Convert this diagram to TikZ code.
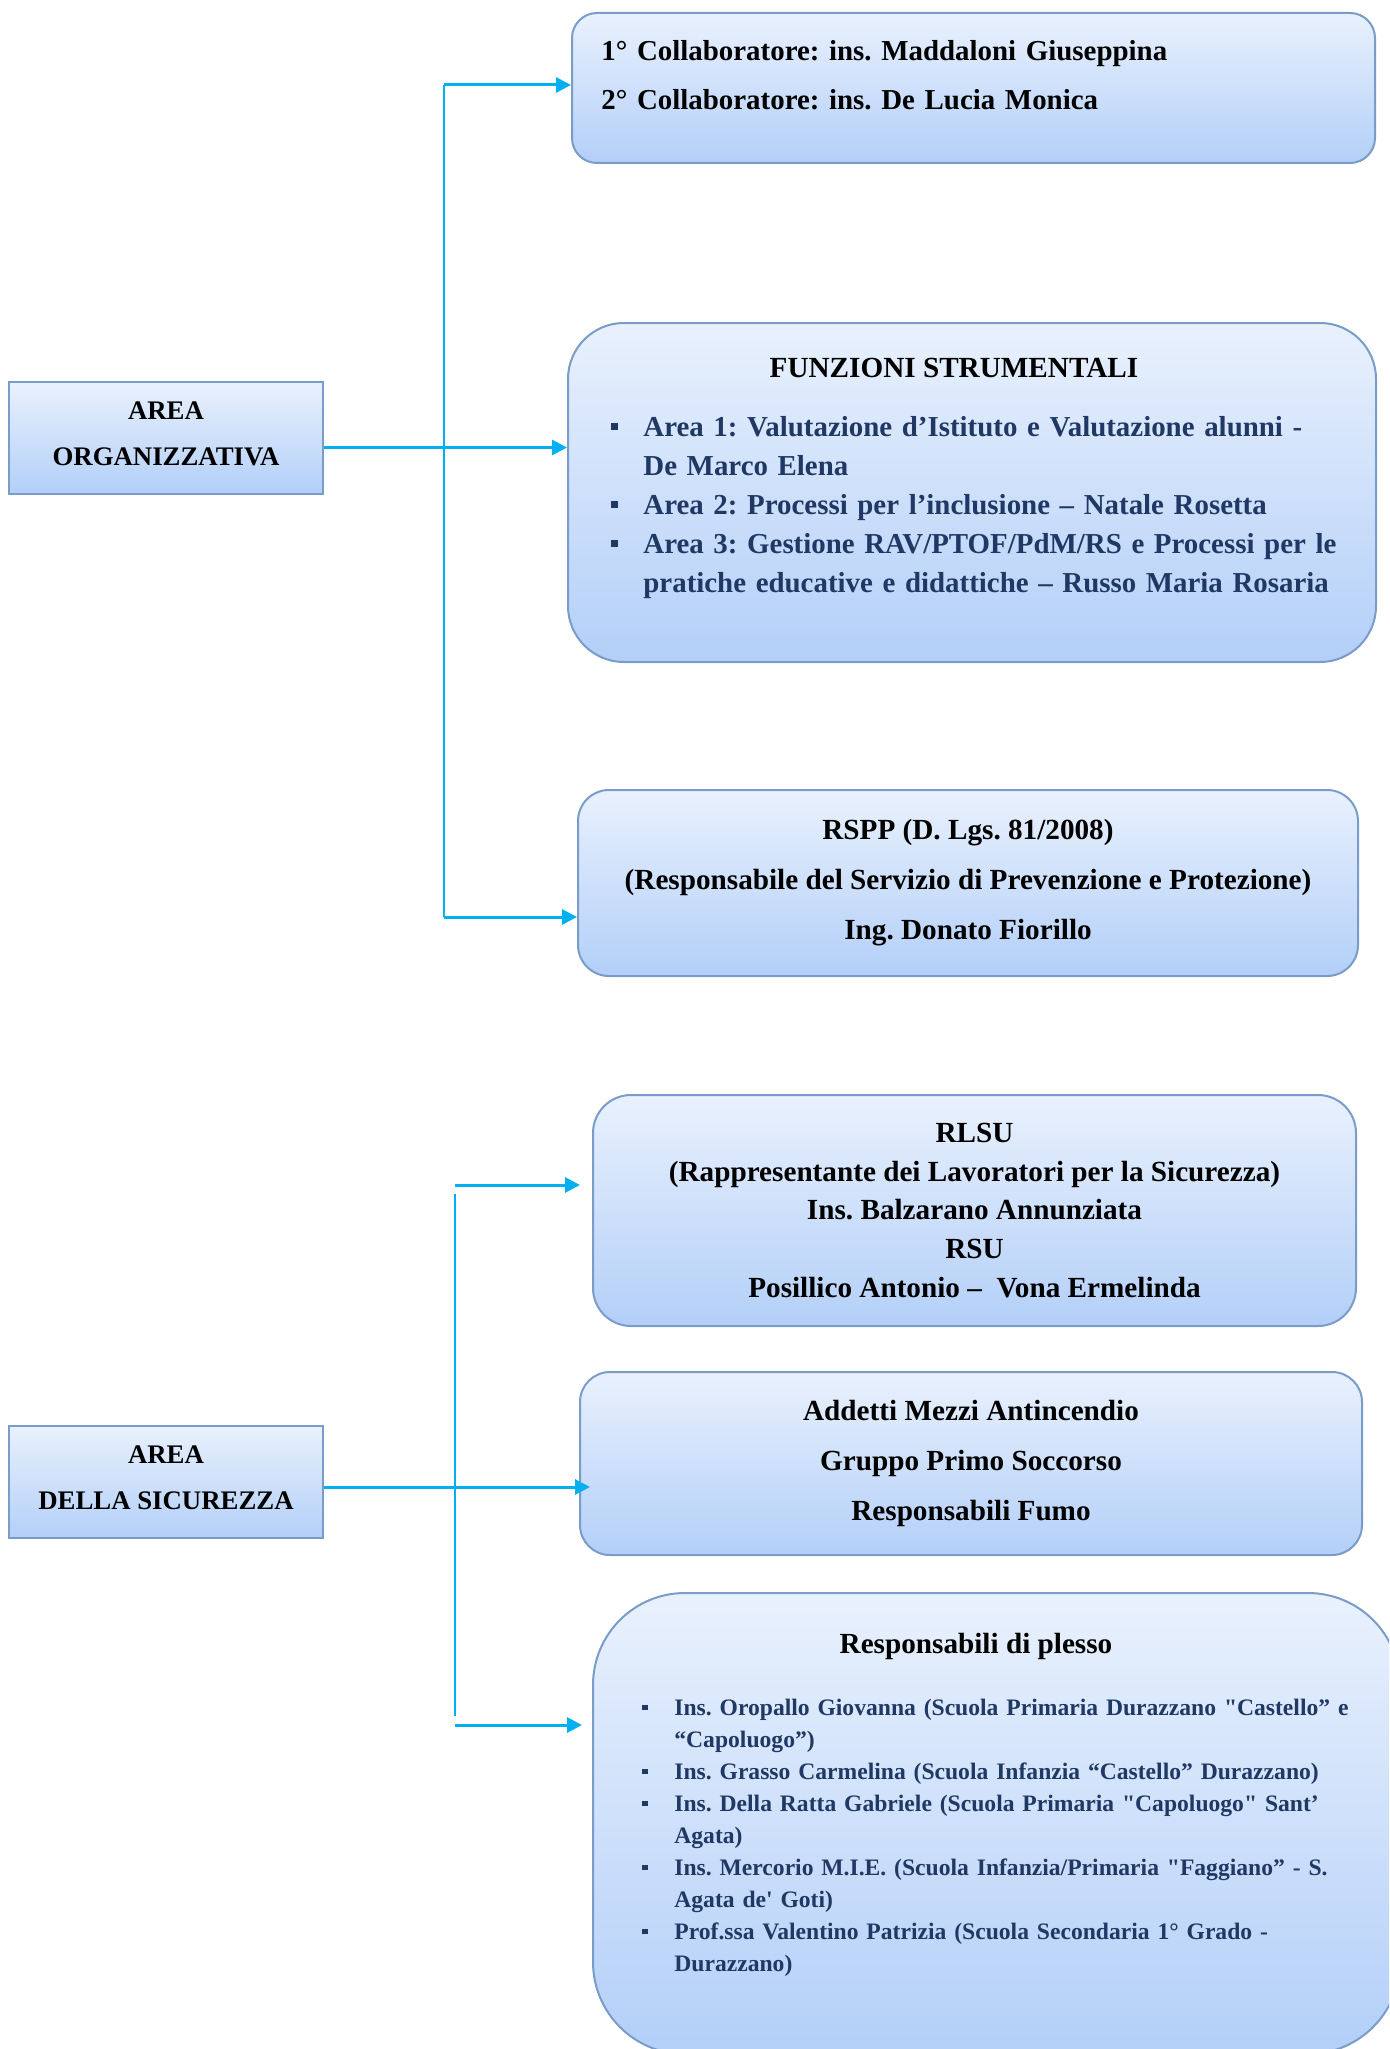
\documentclass[tikz,border=0pt]{standalone}
\usepackage{fontspec}
\setmainfont{Liberation Serif}
\usetikzlibrary{positioning, arrows.meta}

\definecolor{linkcyan}{HTML}{00B0F0}
\definecolor{boxline}{HTML}{7A9CC8}
\definecolor{boxtop}{HTML}{E9F1FD}
\definecolor{boxbot}{HTML}{B3CFF8}
\definecolor{navytext}{HTML}{1F3864}

% square bullets with hanging indent
\newlength{\bindent}
\setlength{\bindent}{16pt}
\newcommand{\sqbullet}{\rule[0.22em]{0.24em}{0.24em}}
\newcommand{\bitem}[1]{\noindent\hangindent=\bindent\hangafter=1\makebox[\bindent][l]{\sqbullet}#1\par}
\newcommand{\lowdepth}{\rule[-4pt]{0pt}{4pt}}

\begin{document}
\frenchspacing
\begin{tikzpicture}[x=0.5pt, y=-0.5pt,
    areabox/.style={draw=boxline, line width=1pt, top color=boxtop, bottom color=boxbot,
      minimum width=157pt, minimum height=56pt, align=center,
      font=\fontsize{13.4}{23}\selectfont\bfseries},
    infobox/.style={draw=boxline, line width=1pt, top color=boxtop, bottom color=boxbot,
      align=center, font=\fontsize{14.6}{25}\selectfont\bfseries},
    bodytext/.style={anchor=base west, inner sep=0pt, text width=390pt, align=left},
    titletext/.style={anchor=base, inner sep=0pt, font=\fontsize{14.6}{25}\selectfont\bfseries},
    trunk/.style={draw=linkcyan, line width=1pt},
    link/.style={draw=linkcyan, line width=1.5pt, -{Triangle[length=7.5pt, width=7.5pt]}}
  ]
  \useasboundingbox (0,0) rectangle (1389,2049);
  \clip (0,0) rectangle (1389,2049);

  % -- 1. AREA ORGANIZZATIVA --
  \node[areabox] (org) at (166,437.5) {AREA\\ORGANIZZATIVA\lowdepth};

  \node[infobox, rounded corners=12.5pt, minimum width=401.5pt, minimum height=75pt] (collab) at (973.5,88) {};
  \node[bodytext, font=\fontsize{14.45}{24.5}\selectfont\bfseries] (collabtxt) at (601,60.5)
    {1° Collaboratore: ins. Maddaloni Giuseppina\\
     2° Collaboratore: ins. De Lucia Monica};

  \node[infobox, rounded corners=28pt, minimum width=404pt, minimum height=169.5pt] (fs) at (972,492.5) {};
  \node[titletext] (fstitle) at (954,377.5) {FUNZIONI STRUMENTALI};
  \node[bodytext, text=navytext, font=\fontsize{14.45}{19.5}\selectfont\bfseries] (fslist) at (611,436.5) {%
    \bitem{Area 1: Valutazione d’Istituto e Valutazione alunni -\newline De Marco Elena}
    \bitem{Area 2: Processi per l’inclusione – Natale Rosetta}
    \bitem{Area 3: Gestione RAV/PTOF/PdM/RS e Processi per le\newline pratiche educative e didattiche – Russo Maria Rosaria}};

  \node[infobox, rounded corners=15.5pt, minimum width=390pt, minimum height=93pt] (rspp) at (968,883)
    {RSPP (D. Lgs. 81/2008)\\
     (Responsabile del Servizio di Prevenzione e Protezione)\\
     Ing. Donato Fiorillo};

  % connectors
  \coordinate (otop) at (444,85);
  \coordinate (obot) at (444,917);
  \draw[trunk] (otop) -- (obot);
  \draw[link] (otop) -- (collab.west |- otop);
  \draw[link] ([yshift=-5pt]org.east) -- ([yshift=-5pt]org.east -| fs.west);
  \draw[link] (obot) -- (rspp.west |- obot);

  % -- 2. AREA DELLA SICUREZZA --
  \node[areabox] (sic) at (166,1482) {AREA\\DELLA SICUREZZA\lowdepth};

  \node[infobox, rounded corners=19pt, minimum width=381.5pt, minimum height=115.5pt,
    font=\fontsize{14.6}{19.4}\selectfont\bfseries] (rlsu) at (974.5,1210.5)
    {RLSU\\
     (Rappresentante dei Lavoratori per la Sicurezza)\\
     Ins. Balzarano Annunziata\\
     RSU\\
     Posillico Antonio –\ \ Vona Ermelinda};

  \node[infobox, rounded corners=15pt, minimum width=391pt, minimum height=91.5pt] (addetti) at (971,1463.5)
    {Addetti Mezzi Antincendio\\
     Gruppo Primo Soccorso\\
     Responsabili Fumo};

  \node[infobox, rounded corners=46pt, minimum width=403.5pt, minimum height=230.5pt] (plesso) at (996.5,1823.5) {};
  \node[titletext] (plessotitle) at (976,1653) {Responsabili di plesso};
  \node[bodytext, text=navytext, font=\fontsize{11.8}{16}\selectfont\bfseries] (plessolist) at (642,1715.5) {%
    \bitem{Ins. Oropallo Giovanna (Scuola Primaria Durazzano \textquotedbl Castello” e\newline “Capoluogo”)}
    \bitem{Ins. Grasso Carmelina (Scuola Infanzia “Castello” Durazzano)}
    \bitem{Ins. Della Ratta Gabriele (Scuola Primaria \textquotedbl Capoluogo\textquotedbl{} Sant’\newline Agata)}
    \bitem{Ins. Mercorio M.I.E. (Scuola Infanzia/Primaria \textquotedbl Faggiano” - S.\newline Agata de\textquotesingle{} Goti)}
    \bitem{Prof.ssa Valentino Patrizia (Scuola Secondaria 1° Grado -\newline Durazzano)}};

  % connectors
  \coordinate (sarrtop) at (455,1185);
  \coordinate (stop) at (455,1194);
  \coordinate (sbot) at (455,1716);
  \coordinate (sarrbot) at (455,1725);
  \draw[trunk] (stop) -- (sbot);
  \draw[link] (sarrtop) -- ([xshift=-6pt]rlsu.west |- sarrtop);
  \draw[link] ([yshift=-2.5pt]sic.east) -- ([yshift=-2.5pt, xshift=5.5pt]sic.east -| addetti.west);
  \draw[link] (sarrbot) -- ([xshift=-5pt]plesso.west |- sarrbot);
\end{tikzpicture}
\end{document}
